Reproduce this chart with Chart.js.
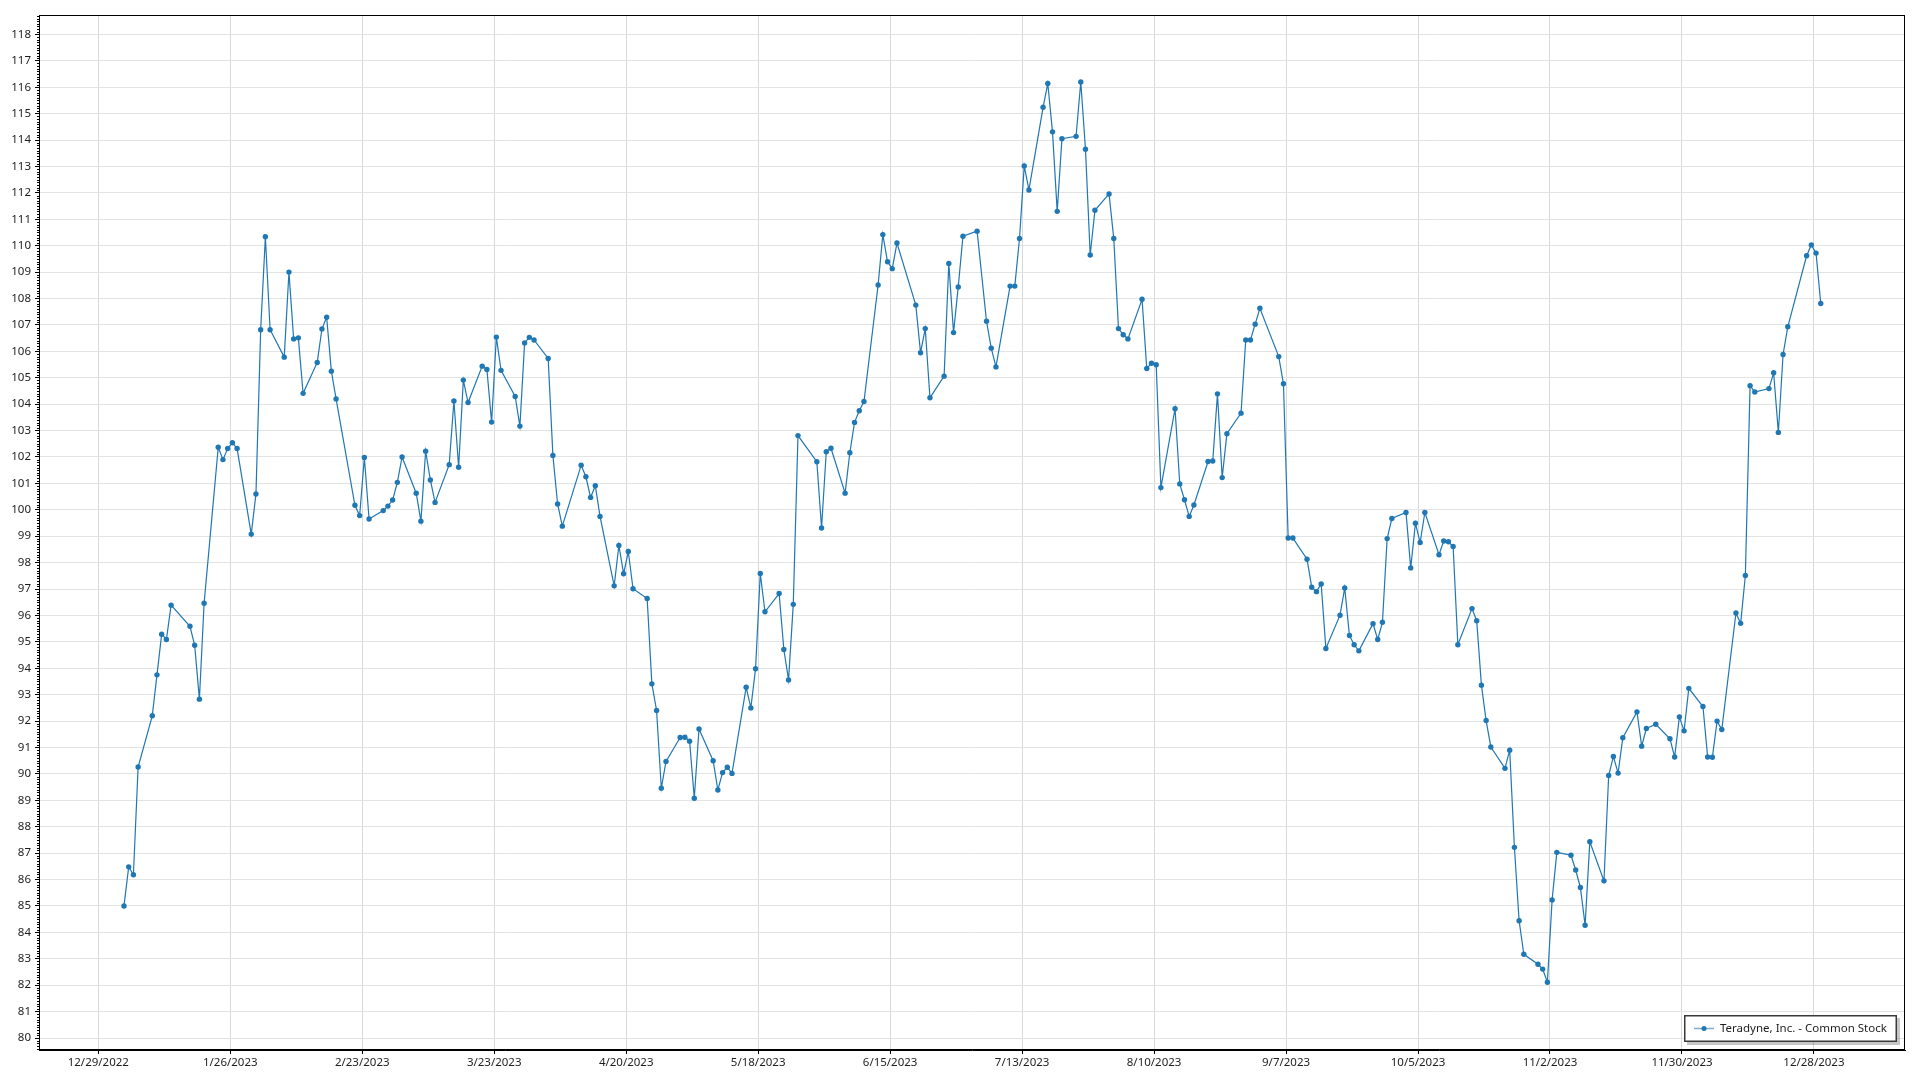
<!DOCTYPE html>
<html>
<head>
<meta charset="utf-8">
<script src="https://cdn.jsdelivr.net/npm/chart.js@4.4.1/dist/chart.umd.min.js"></script>
<style>
  html, body { margin: 0; padding: 0; background: #ffffff; }
  #wrap { width: 1920px; height: 1080px; }
</style>
</head>
<body>
<div id="wrap"><canvas id="c" width="1920" height="1080"></canvas></div>
<script>
// ---- Data ----
const seriesName = 'Teradyne, Inc. - Common Stock';
const year = 2023;

const dates = [
  '1/3','1/4','1/5','1/6','1/9','1/10','1/11','1/12','1/13','1/17','1/18','1/19','1/20','1/23','1/24','1/25','1/26','1/27','1/30','1/31',
  '2/1','2/2','2/3','2/6','2/7','2/8','2/9','2/10','2/13','2/14','2/15','2/16','2/17','2/21','2/22','2/23','2/24','2/27','2/28',
  '3/1','3/2','3/3','3/6','3/7','3/8','3/9','3/10','3/13','3/14','3/15','3/16','3/17','3/20','3/21','3/22','3/23','3/24','3/27','3/28','3/29','3/30','3/31',
  '4/3','4/4','4/5','4/6','4/10','4/11','4/12','4/13','4/14','4/17','4/18','4/19','4/20','4/21','4/24','4/25','4/26','4/27','4/28',
  '5/1','5/2','5/3','5/4','5/5','5/8','5/9','5/10','5/11','5/12','5/15','5/16','5/17','5/18','5/19','5/22','5/23','5/24','5/25','5/26','5/30','5/31',
  '6/1','6/2','6/5','6/6','6/7','6/8','6/9','6/12','6/13','6/14','6/15','6/16','6/20','6/21','6/22','6/23','6/26','6/27','6/28','6/29','6/30',
  '7/3','7/5','7/6','7/7','7/10','7/11','7/12','7/13','7/14','7/17','7/18','7/19','7/20','7/21','7/24','7/25','7/26','7/27','7/28','7/31',
  '8/1','8/2','8/3','8/4','8/7','8/8','8/9','8/10','8/11','8/14','8/15','8/16','8/17','8/18','8/21','8/22','8/23','8/24','8/25','8/28','8/29','8/30','8/31',
  '9/1','9/5','9/6','9/7','9/8','9/11','9/12','9/13','9/14','9/15','9/18','9/19','9/20','9/21','9/22','9/25','9/26','9/27','9/28','9/29',
  '10/2','10/3','10/4','10/5','10/6','10/9','10/10','10/11','10/12','10/13','10/16','10/17','10/18','10/19','10/20','10/23','10/24','10/25','10/26','10/27','10/30','10/31',
  '11/1','11/2','11/3','11/6','11/7','11/8','11/9','11/10','11/13','11/14','11/15','11/16','11/17','11/20','11/21','11/22','11/24','11/27','11/28','11/29','11/30',
  '12/1','12/4','12/5','12/6','12/7','12/8','12/11','12/12','12/13','12/14','12/15','12/18','12/19','12/20','12/21','12/22','12/26','12/27','12/28','12/29'
];

const closes = [
  85.00, 86.48, 86.18, 90.26, 92.20, 93.75, 95.29, 95.09, 96.39, 95.59, 94.87, 92.83, 96.46, 102.37, 101.90, 102.32, 102.54, 102.32, 99.08, 100.60,
  106.82, 110.34, 106.82, 105.78, 109.00, 106.47, 106.51, 104.41, 105.58, 106.85, 107.29, 105.25, 104.20, 100.17, 99.78, 101.98, 99.65, 99.97, 100.14,
  100.37, 101.04, 102.00, 100.63, 99.57, 102.22, 101.13, 100.28, 101.71, 104.12, 101.61, 104.91, 104.06, 105.44, 105.31, 103.32, 106.54, 105.28, 104.29, 103.17, 106.32, 106.53, 106.43,
  105.73, 102.06, 100.22, 99.38, 101.69, 101.25, 100.47, 100.91, 99.75, 97.12, 98.65, 97.58, 98.42, 97.01, 96.64, 93.41, 92.40, 89.46, 90.47,
  91.38, 91.39, 91.24, 89.08, 91.70, 90.50, 89.39, 90.05, 90.25, 90.02, 93.28, 92.50, 93.98, 97.59, 96.14, 96.83, 94.71, 93.56, 96.42, 102.81, 101.82, 99.31,
  102.20, 102.33, 100.63, 102.16, 103.31, 103.75, 104.10, 108.51, 110.42, 109.39, 109.13, 110.10, 107.75, 105.95, 106.86, 104.24, 105.06, 109.33, 106.71, 108.44, 110.36,
  110.55, 107.14, 106.12, 105.41, 108.47, 108.47, 110.27, 113.02, 112.11, 115.24, 116.14, 114.31, 111.30, 114.05, 114.14, 116.20, 113.65, 109.65, 111.34, 111.96,
  110.27, 106.86, 106.63, 106.47, 107.97, 105.35, 105.55, 105.49, 100.84, 103.83, 100.98, 100.38, 99.75, 100.18, 101.83, 101.85, 104.39, 101.22, 102.88, 103.66, 106.43, 106.43, 107.03,
  107.63, 105.80, 104.77, 98.93, 98.93, 98.13, 97.07, 96.90, 97.19, 94.75, 96.01, 97.04, 95.24, 94.89, 94.66, 95.69, 95.09, 95.74, 98.91, 99.67,
  99.90, 97.80, 99.49, 98.76, 99.90, 98.30, 98.82, 98.79, 98.61, 94.89, 96.26, 95.80, 93.36, 92.02, 91.02, 90.21, 90.90, 87.22, 84.44, 83.17, 82.79, 82.61,
  82.11, 85.23, 87.03, 86.92, 86.36, 85.70, 84.27, 87.43, 85.95, 89.94, 90.66, 90.03, 91.37, 92.35, 91.05, 91.72, 91.88, 91.33, 90.64, 92.16, 91.63,
  93.24, 92.55, 90.64, 90.63, 92.00, 91.68, 96.09, 95.70, 97.51, 104.70, 104.46, 104.59, 105.19, 102.93, 105.88, 106.93, 109.62, 110.03, 109.72, 107.81
];

const xTickLabels = ['12/29/2022','1/26/2023','2/23/2023','3/23/2023','4/20/2023','5/18/2023','6/15/2023',
                     '7/13/2023','8/10/2023','9/7/2023','10/5/2023','11/2/2023','11/30/2023','12/28/2023'];

const yTickValues = [80,81,82,83,84,85,86,87,88,89,90,91,92,93,94,95,96,97,98,99,100,
                     101,102,103,104,105,106,107,108,109,110,111,112,113,114,115,116,117,118];

// ---- Helpers ----
const DAY = 86400000;
const HOUR = 3600000;
const stampHour = 10.8; // time of day of each quote
function mdy(s) { const p = s.split('/').map(Number); return Date.UTC(p[2], p[0] - 1, p[1]); }
function md(s) { const p = s.split('/').map(Number); return Date.UTC(year, p[0] - 1, p[1]) + stampHour * HOUR; }

const points = dates.map((d, i) => ({ x: md(d), y: closes[i] }));
const firstTick = mdy(xTickLabels[0]);
const xMin = firstTick - 12.58 * DAY;
const xMax = xMin + 395.9 * DAY;
const yMin = 79.546;
const yMax = 118.735;

const FONT = { family: "'Noto Sans', 'Open Sans', sans-serif", size: 11.5 };
const TEXT = '#1e1e1e';
const LINE = '#1f77b4';

const framePlugin = {
  id: 'frame',
  afterDraw(chart) {
    const ctx = chart.ctx;
    const a = chart.chartArea;
    const ys = chart.scales.y;
    ctx.save();
    // minor ticks on the value axis
    ctx.strokeStyle = '#000';
    ctx.lineWidth = 1;
    ctx.beginPath();
    for (let k = Math.ceil(ys.min * 10); k <= Math.floor(ys.max * 10); k++) {
      if (k % 10 === 0) continue;
      const y = Math.round(ys.getPixelForValue(k / 10)) + 0.5;
      ctx.moveTo(a.left - 2, y);
      ctx.lineTo(a.left, y);
    }
    ctx.stroke();
    // plot frame
    ctx.strokeRect(Math.round(a.left) + 0.5, Math.round(a.top) + 0.5,
                   Math.round(a.right - a.left) - 1, Math.round(a.bottom - a.top) - 1);

    // legend box (bottom-right inside the plot)
    ctx.font = `${FONT.size}px ${FONT.family}`;
    const tw = ctx.measureText(seriesName).width;
    const bw = Math.round(tw + 46), bh = 27;
    const bx = Math.round(a.right - 8 - bw), by = Math.round(a.bottom - 8 - bh);
    ctx.fillStyle = 'rgba(0,0,0,0.22)';
    ctx.fillRect(bx + 3, by + 3, bw, bh);
    ctx.fillStyle = '#fff';
    ctx.fillRect(bx, by, bw, bh);
    ctx.strokeStyle = '#3a3a3a';
    ctx.lineWidth = 1.5;
    ctx.strokeRect(bx + 0.75, by + 0.75, bw - 1.5, bh - 1.5);
    const cy = by + bh / 2;
    ctx.strokeStyle = 'rgba(31,119,180,0.6)';
    ctx.lineWidth = 1.5;
    ctx.beginPath();
    ctx.moveTo(bx + 10, cy); ctx.lineTo(bx + 30, cy);
    ctx.stroke();
    ctx.fillStyle = LINE;
    ctx.beginPath(); ctx.arc(bx + 20, cy, 2.5, 0, Math.PI * 2); ctx.fill();
    ctx.fillStyle = TEXT;
    ctx.textBaseline = 'middle';
    ctx.textAlign = 'left';
    ctx.fillText(seriesName, bx + 36, cy);
    ctx.restore();
  }
};

new Chart(document.getElementById('c'), {
  type: 'line',
  data: {
    datasets: [{
      label: seriesName,
      data: points,
      borderColor: LINE,
      backgroundColor: LINE,
      borderWidth: 1.2,
      pointRadius: 2.7,
      pointBorderWidth: 0,
      pointHoverRadius: 2.7,
      tension: 0,
      fill: false
    }]
  },
  options: {
    responsive: false,
    animation: false,
    devicePixelRatio: 1,
    layout: { padding: { top: 15, right: 15, left: 0, bottom: 0 } },
    plugins: { legend: { display: false }, tooltip: { enabled: false } },
    scales: {
      x: {
        type: 'linear',
        min: xMin,
        max: xMax,
        afterBuildTicks: s => { s.ticks = xTickLabels.map(l => ({ value: mdy(l) })); },
        afterFit: s => { s.height = 30; },
        ticks: {
          autoSkip: false, maxRotation: 0, minRotation: 0,
          font: FONT, color: TEXT, padding: 2,
          callback: (v, i) => xTickLabels[i]
        },
        grid: { color: '#d9d9d9', tickColor: '#000', tickLength: 4, drawTicks: true },
        border: { display: true, color: '#000', width: 1 }
      },
      y: {
        min: yMin,
        max: yMax,
        afterBuildTicks: s => { s.ticks = yTickValues.map(v => ({ value: v })); },
        afterFit: s => { s.width = 39; },
        ticks: { font: FONT, color: TEXT, padding: 4, callback: v => String(v) },
        grid: { color: '#e3e3e3', tickColor: '#000', tickLength: 4, drawTicks: true },
        border: { display: true, color: '#000', width: 1 }
      }
    }
  },
  plugins: [framePlugin]
});
</script>
</body>
</html>
